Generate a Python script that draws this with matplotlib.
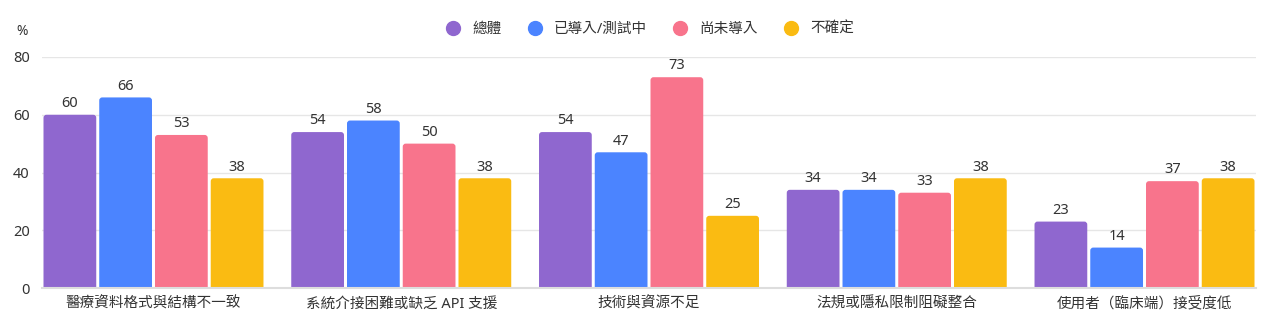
import matplotlib
matplotlib.use('Agg')
import matplotlib.pyplot as plt
from matplotlib.patches import FancyBboxPatch
import numpy as np

plt.rcParams['font.family'] = ['Noto Sans', 'Noto Sans CJK TC', 'DejaVu Sans']

categories = ['醫療資料格式與結構不一致', '系統介接困難或缺乏 API 支援', '技術與資源不足',
              '法規或隱私限制阻礙整合', '使用者（臨床端）接受度低']
series_names = ['總體', '已導入/測試中', '尚未導入', '不確定']
overall = [60, 54, 54, 34, 23]
adopted = [66, 58, 47, 34, 14]
not_adopted = [53, 50, 73, 33, 37]
unsure = [38, 38, 25, 38, 38]
colors = ['#8F67CF', '#4B84FF', '#F8748C', '#FABB12']

fig = plt.figure(figsize=(12.7, 3.28), dpi=100)
ax = fig.add_axes([42 / 1270, 1 - 288 / 328, (1256 - 42) / 1270, (288 - 57) / 328])

x = np.arange(len(categories))
gw = 0.9
w = gw / 4
data = [overall, adopted, not_adopted, unsure]

# rounded top corners: radius ~3px, x unit ~248px, y unit ~2.89px
r = 3 / 248
aspect = (3 / 2.89) / r
for i, (vals, name, c) in enumerate(zip(data, series_names, colors)):
    pos = x + (i - 1.5) * w
    bars = ax.bar(pos, vals, width=w, color=c, label=name, zorder=3)
    for b, v in zip(bars, vals):
        b.set_visible(False)
        gap = 1.5 / 248
        p = FancyBboxPatch((b.get_x() + gap, -3), b.get_width() - 2 * gap, v + 3,
                           boxstyle=f'round,pad=0,rounding_size={r}', mutation_aspect=aspect,
                           facecolor=c, edgecolor='none', zorder=3)
        ax.add_patch(p)
        ax.text(b.get_x() + b.get_width() / 2, v + 1.3, str(v), ha='center', va='bottom',
                fontsize=10.5, color='#333333')

ax.set_xlim(-gw / 2, len(categories) - 1 + gw / 2)
ax.set_ylim(0, 80)
ax.set_yticks([0, 20, 40, 60, 80])
ax.set_xticks(x)
ax.set_xticklabels(categories, fontsize=10.5, color='#333333')
ax.tick_params(axis='y', labelsize=10.5, colors='#333333', length=0, pad=9)
ax.tick_params(axis='x', length=0, pad=6)
ax.grid(axis='y', color='#e6e6e6', linewidth=1, zorder=0)
for s in ['top', 'right', 'left']:
    ax.spines[s].set_visible(False)
ax.spines['bottom'].set_color('#dddddd')
ax.spines['bottom'].set_linewidth(1.5)
ax.spines['bottom'].set_zorder(4)

fig.text(0.013, 0.905, '%', fontsize=10, color='#333333', ha='left', va='center')

handles = [plt.Line2D([], [], marker='o', linestyle='', markersize=10, color=c) for c in colors]
fig.legend(handles, series_names, loc='center', bbox_to_anchor=(0.509, 0.91), ncol=4,
           frameon=False, fontsize=10.5, handletextpad=0.3, columnspacing=1.3,
           labelcolor='#333333')

fig.savefig('out.png', dpi=100)
